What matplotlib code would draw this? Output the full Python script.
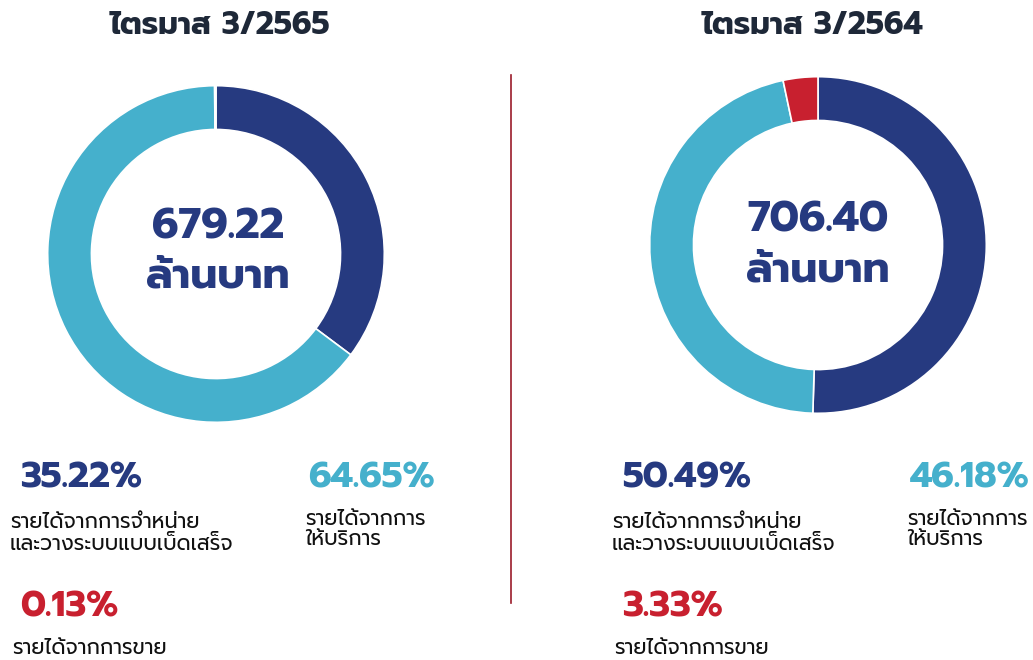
import matplotlib.pyplot as plt
from matplotlib.lines import Line2D

# Colours
navy = "#263a80"
sky = "#45b0cc"
red = "#c8202f"
dark = "#1e2838"

# Data
quarters = ["ไตรมาส 3/2565", "ไตรมาส 3/2564"]
totals = ["679.22", "706.40"]
unit = "ล้านบาท"
share_sales_install = [35.22, 50.49]
share_service = [64.65, 46.18]
share_sale = [0.13, 3.33]
label_install = "รายได้จากการจำหน่าย\nและวางระบบแบบเบ็ดเสร็จ"
label_service = "รายได้จากการ\nให้บริการ"
label_sale = "รายได้จากการขาย"

plt.rcParams['font.family'] = ['Prompt', 'Kanit', 'DejaVu Sans']

W, H = 1033, 660
fig = plt.figure(figsize=(W / 100, H / 100), dpi=100)


def px(x, y):
    return x / W, 1 - y / H


# donut boxes in pixels: (left, top, size)
boxes = [(46, 84, 340), (648, 75, 340)]

for i, (l, t, s) in enumerate(boxes):
    ax = fig.add_axes([l / W, 1 - (t + s) / H, s / W, s / H])
    vals = [share_sales_install[i], share_service[i], share_sale[i]]
    ax.pie(vals, colors=[navy, sky, red], startangle=90, counterclock=False,
           radius=1, wedgeprops=dict(width=0.26, edgecolor='white', linewidth=1.2))
    ax.set_xlim(-1.01, 1.01)
    ax.set_ylim(-1.01, 1.01)
    ax.set_aspect('equal')
    ax.axis('off')

# Titles
fig.text(*px(220, 25), quarters[0], ha='center', va='center', fontsize=22.5,
         fontweight='bold', color=dark)
fig.text(*px(812, 25), quarters[1], ha='center', va='center', fontsize=22.5,
         fontweight='bold', color=dark)

centers = [(218, 254), (818, 248)]
for i, (cx, cy) in enumerate(centers):
    fig.text(*px(cx, cy - 27), totals[i], ha='center', va='center', fontsize=30.5,
             fontweight='bold', color=navy)
    fig.text(*px(cx, cy + 23), unit, ha='center', va='center', fontsize=30.5,
             fontweight='bold', color=navy)

col_x = [0, 602]
for i, off in enumerate(col_x):
    fig.text(*px(off + 20, 478), f"{share_sales_install[i]:.2f}%", ha='left', va='center',
             fontsize=26, fontweight='bold', color=navy)
    fig.text(*px(off + 10, 534), label_install, ha='left', va='center',
             fontsize=15, color='#111111', linespacing=1.15)
    fig.text(*px(off + 308, 478), f"{share_service[i]:.2f}%", ha='left', va='center',
             fontsize=26, fontweight='bold', color=sky)
    fig.text(*px(off + 305, 530), label_service, ha='left', va='center',
             fontsize=15, color='#111111', linespacing=1.15)
    fig.text(*px(off + 20, 607), f"{share_sale[i]:.2f}%", ha='left', va='center',
             fontsize=26, fontweight='bold', color=red)
    fig.text(*px(off + 12, 649), label_sale, ha='left', va='center',
             fontsize=15, color='#111111')

fig.add_artist(Line2D([511 / W, 511 / W], [1 - 75 / H, 1 - 603 / H],
                      color='#9b1b2a', linewidth=1.2))

fig.savefig('out.png', dpi=100)
